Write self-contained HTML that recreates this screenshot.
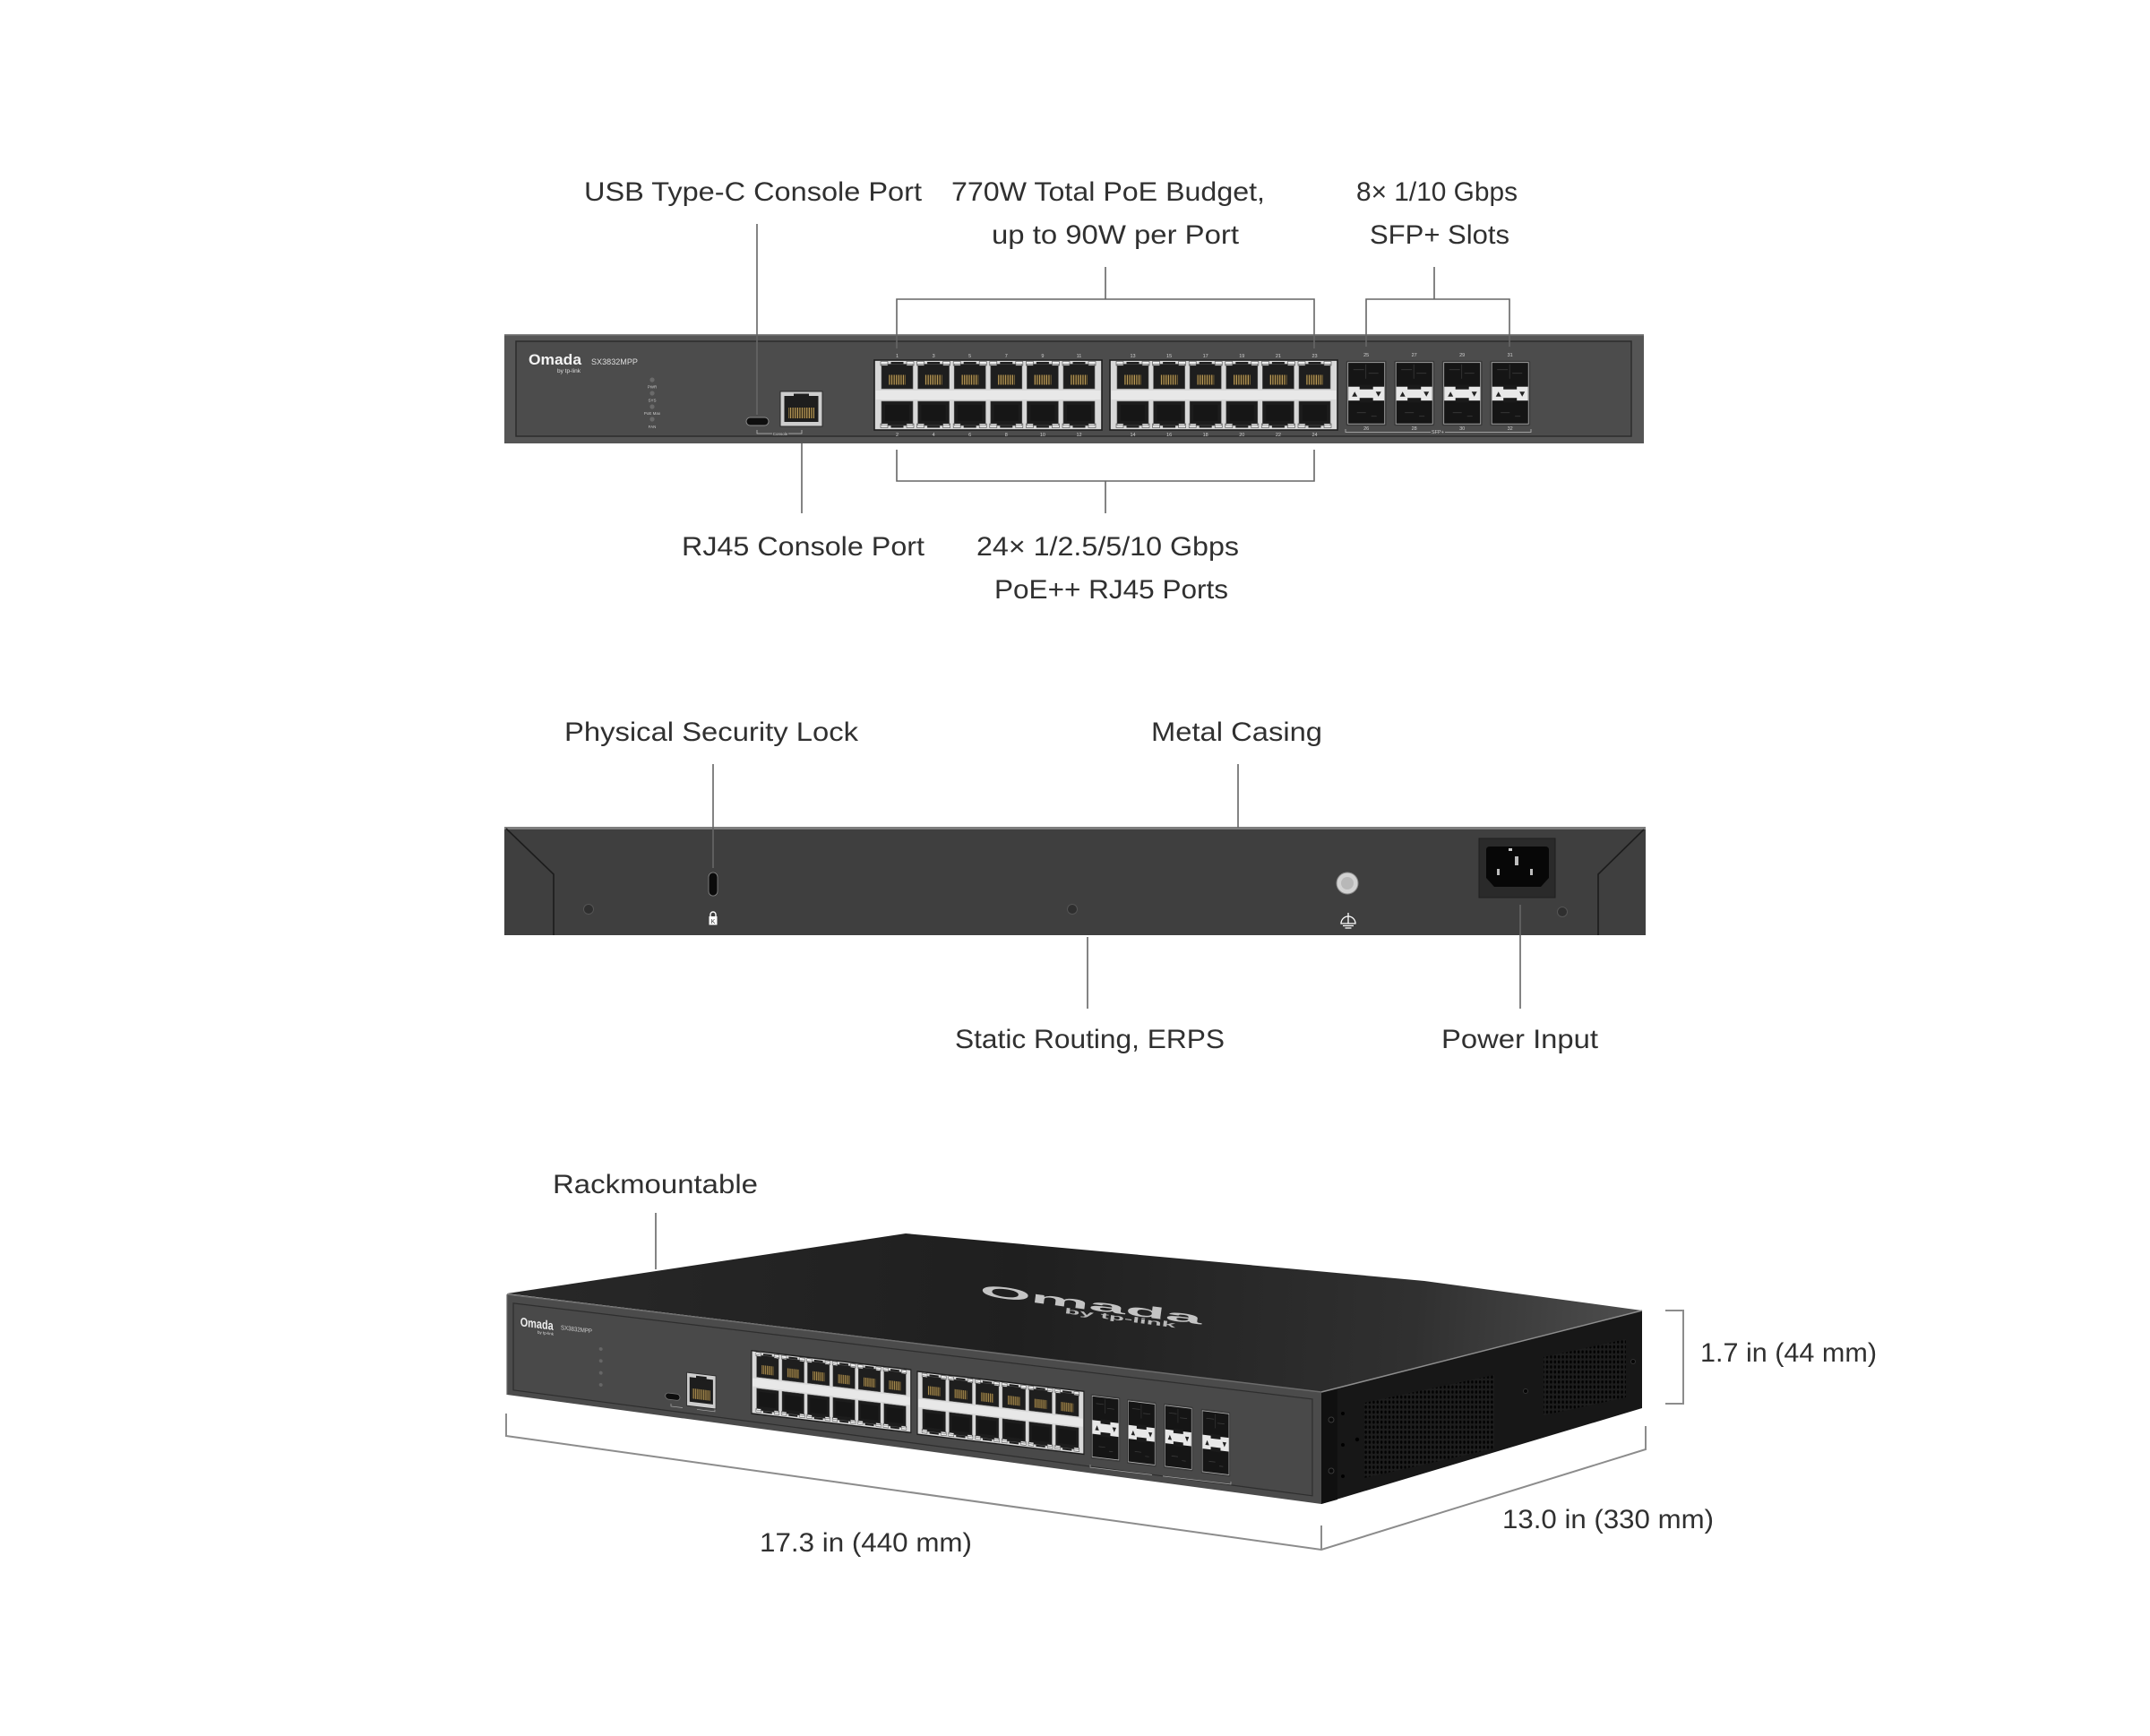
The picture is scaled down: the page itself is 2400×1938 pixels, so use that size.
<!DOCTYPE html>
<html><head><meta charset="utf-8">
<style>
html,body{margin:0;padding:0;background:#fff;}
svg{display:block;}
.lb{font-family:"Liberation Sans",sans-serif;font-size:30px;fill:#303030;}
.ln{stroke:#666;stroke-width:1.6;fill:none;}
.dm{stroke:#8c8c8c;stroke-width:2;fill:none;}
.pn{font-size:5.5px;fill:#cfcfcf;text-anchor:middle;}
</style></head><body>
<svg width="2400" height="1938" viewBox="0 0 2400 1938" xmlns="http://www.w3.org/2000/svg" xmlns:xlink="http://www.w3.org/1999/xlink" font-family="Liberation Sans, sans-serif">
<rect width="2400" height="1938" fill="#fff"/>
<defs>
 <pattern id="pins" width="2.6" height="20" patternUnits="userSpaceOnUse">
   <rect width="2.6" height="20" fill="#2b2417"/>
   <rect x="0.6" width="1.1" height="20" fill="#c8a65e"/>
 </pattern>
 <pattern id="vent" width="4.4" height="5.6" patternUnits="userSpaceOnUse">
   <rect width="4.4" height="5.6" fill="#1d1d1d"/>
   <ellipse cx="2.2" cy="2.8" rx="1.3" ry="1.9" fill="#030303"/>
 </pattern>
 <linearGradient id="topg" gradientUnits="userSpaceOnUse" x1="566" y1="1400" x2="1833" y2="1480">
   <stop offset="0" stop-color="#282828"/>
   <stop offset="0.45" stop-color="#1f1f1f"/>
   <stop offset="0.8" stop-color="#303030"/>
   <stop offset="1" stop-color="#4e4e4e"/>
 </linearGradient>

 <g id="portT">
   <rect x="0" y="0" width="35" height="27.5" fill="#1e1e1e"/>
   <rect x="10.5" y="-2.5" width="14" height="3" fill="#1e1e1e"/>
   <rect x="-1" y="-3" width="8" height="4.5" fill="#f0f0f0" stroke="#444" stroke-width="0.6"/>
   <rect x="28" y="-3" width="8" height="4.5" fill="#f0f0f0" stroke="#444" stroke-width="0.6"/>
   <rect x="8" y="12" width="19" height="11" fill="url(#pins)"/>
   <rect x="0" y="0" width="35" height="27.5" fill="none" stroke="#555" stroke-width="0.6"/>
 </g>
 <g id="portB">
   <rect x="0" y="0" width="35" height="27" fill="#1c1c1c"/>
   <rect x="10.5" y="26.5" width="14" height="3" fill="#1c1c1c"/>
   <rect x="-1" y="25" width="8" height="4.5" fill="#f0f0f0" stroke="#444" stroke-width="0.6"/>
   <rect x="28" y="25" width="8" height="4.5" fill="#f0f0f0" stroke="#444" stroke-width="0.6"/>
   <rect x="4" y="4" width="27" height="18" fill="#161616"/>
   <rect x="0" y="0" width="35" height="27" fill="none" stroke="#555" stroke-width="0.6"/>
 </g>
 <g id="rjblock">
   <rect x="0" y="0" width="254" height="78" fill="#d8d8d8" stroke="#1e1e1e" stroke-width="1.6"/>
   <rect x="1.5" y="34" width="251" height="10" fill="#e8e8e8"/>
   <use href="#portT" x="8" y="4.5"/>
   <use href="#portT" x="48.6" y="4.5"/>
   <use href="#portT" x="89.2" y="4.5"/>
   <use href="#portT" x="129.8" y="4.5"/>
   <use href="#portT" x="170.4" y="4.5"/>
   <use href="#portT" x="211" y="4.5"/>
   <use href="#portB" x="8" y="46"/>
   <use href="#portB" x="48.6" y="46"/>
   <use href="#portB" x="89.2" y="46"/>
   <use href="#portB" x="129.8" y="46"/>
   <use href="#portB" x="170.4" y="46"/>
   <use href="#portB" x="211" y="46"/>
 </g>
 <g id="sfp">
   <rect x="0" y="0" width="45" height="72.5" rx="1.5" fill="#3a3a3a"/>
   <rect x="2" y="2" width="41" height="68.5" fill="#151515" stroke="#b5b5b5" stroke-width="0.8"/>
   <path d="M8,10 H20 M25,14 H36 M12,58 H22 M28,62 H34 M22,4 V20" stroke="#3a3a3a" stroke-width="0.8"/>
   <rect x="2.5" y="29" width="40" height="15.5" fill="#e8e8e8"/>
   <rect x="15" y="27" width="15" height="5" fill="#1a1a1a"/>
   <rect x="15" y="41.5" width="15" height="5" fill="#1a1a1a"/>
   <polygon points="6.5,40 12.5,40 9.5,34.5" fill="#222"/>
   <polygon points="33,34.5 39,34.5 36,40" fill="#222"/>
 </g>
 <g id="con">
   <rect width="47" height="39" fill="#cdcdcd" stroke="#2a2a2a" stroke-width="1"/>
   <rect x="4.5" y="5" width="38" height="29" fill="#1d1d1d"/>
   <rect x="15" y="2.5" width="17" height="5" fill="#1d1d1d"/>
   <rect x="9" y="18" width="29" height="12" fill="url(#pins)"/>
 </g>
</defs>

<!-- ================= LABELS ================= -->
<text class="lb" x="652" y="224" textLength="377" lengthAdjust="spacingAndGlyphs">USB Type-C Console Port</text>
<text class="lb" x="1062" y="224" textLength="350" lengthAdjust="spacingAndGlyphs">770W Total PoE Budget,</text>
<text class="lb" x="1107" y="272" textLength="276" lengthAdjust="spacingAndGlyphs">up to 90W per Port</text>
<text class="lb" x="1514" y="224" textLength="180" lengthAdjust="spacingAndGlyphs">8× 1/10 Gbps</text>
<text class="lb" x="1529" y="272" textLength="156" lengthAdjust="spacingAndGlyphs">SFP+ Slots</text>
<text class="lb" x="761" y="620" textLength="271" lengthAdjust="spacingAndGlyphs">RJ45 Console Port</text>
<text class="lb" x="1090" y="620" textLength="293" lengthAdjust="spacingAndGlyphs">24× 1/2.5/5/10 Gbps</text>
<text class="lb" x="1110" y="668" textLength="261" lengthAdjust="spacingAndGlyphs">PoE++ RJ45 Ports</text>
<text class="lb" x="630" y="827" textLength="328" lengthAdjust="spacingAndGlyphs">Physical Security Lock</text>
<text class="lb" x="1285" y="827" textLength="191" lengthAdjust="spacingAndGlyphs">Metal Casing</text>
<text class="lb" x="1066" y="1170" textLength="301" lengthAdjust="spacingAndGlyphs">Static Routing, ERPS</text>
<text class="lb" x="1609" y="1170" textLength="175" lengthAdjust="spacingAndGlyphs">Power Input</text>
<text class="lb" x="617" y="1332" textLength="229" lengthAdjust="spacingAndGlyphs">Rackmountable</text>
<text class="lb" x="848" y="1732" textLength="237" lengthAdjust="spacingAndGlyphs">17.3 in (440 mm)</text>
<text class="lb" x="1677" y="1706" textLength="236" lengthAdjust="spacingAndGlyphs">13.0 in (330 mm)</text>
<text class="lb" x="1898" y="1520" textLength="197" lengthAdjust="spacingAndGlyphs">1.7 in (44 mm)</text>

<!-- ================= FRONT VIEW ================= -->
<rect x="563" y="373" width="1272" height="122" fill="#555"/>
<rect x="563" y="373" width="1272" height="1.5" fill="#808080"/>
<rect x="576" y="381" width="1245" height="106" fill="#4c4c4c" stroke="#2c2c2c" stroke-width="1.5"/>
<text x="590" y="407" font-weight="bold" font-size="17" fill="#f2f2f2" textLength="59" lengthAdjust="spacingAndGlyphs">Omada</text>
<text x="648" y="416" font-size="6.5" text-anchor="end" fill="#ddd">by tp-link</text>
<text x="660" y="407" font-size="9.5" fill="#ddd" textLength="52" lengthAdjust="spacingAndGlyphs">SX3832MPP</text>
<circle cx="728" cy="424" r="2.6" fill="#6a6a6a"/>
<circle cx="728" cy="439" r="2.6" fill="#6a6a6a"/>
<circle cx="728" cy="454" r="2.6" fill="#6a6a6a"/>
<circle cx="728" cy="468" r="2.6" fill="#6a6a6a"/>
<text x="728" y="433.5" font-size="4.5" fill="#c8c8c8" text-anchor="middle">PWR</text>
<text x="728" y="448.5" font-size="4.5" fill="#c8c8c8" text-anchor="middle">SYS</text>
<text x="728" y="463" font-size="4.5" fill="#c8c8c8" text-anchor="middle">PoE Max</text>
<text x="728" y="478" font-size="4.5" fill="#c8c8c8" text-anchor="middle">FAN</text>
<rect x="833" y="466" width="25" height="9" rx="4.5" fill="#0e0e0e" stroke="#8a8a8a" stroke-width="1"/>
<path d="M845,480 V484 H862 M880,484 H895 V480" stroke="#bbb" stroke-width="0.8" fill="none"/>
<text x="871" y="486" font-size="4.5" fill="#ccc" text-anchor="middle">Console</text>
<use href="#con" x="871" y="437"/>
<use href="#rjblock" x="976" y="402"/>
<use href="#rjblock" x="1239" y="402"/>
<use href="#sfp" x="1502.7" y="402.7"/>
<use href="#sfp" x="1556.2" y="402.7"/>
<use href="#sfp" x="1609.7" y="402.7"/>
<use href="#sfp" x="1663.2" y="402.7"/>
<g class="pn">
 <text x="1001.5" y="399">1</text><text x="1042.1" y="399">3</text><text x="1082.7" y="399">5</text>
 <text x="1123.3" y="399">7</text><text x="1163.9" y="399">9</text><text x="1204.5" y="399">11</text>
 <text x="1264.5" y="399">13</text><text x="1305.1" y="399">15</text><text x="1345.7" y="399">17</text>
 <text x="1386.3" y="399">19</text><text x="1426.9" y="399">21</text><text x="1467.5" y="399">23</text>
 <text x="1001.5" y="487">2</text><text x="1042.1" y="487">4</text><text x="1082.7" y="487">6</text>
 <text x="1123.3" y="487">8</text><text x="1163.9" y="487">10</text><text x="1204.5" y="487">12</text>
 <text x="1264.5" y="487">14</text><text x="1305.1" y="487">16</text><text x="1345.7" y="487">18</text>
 <text x="1386.3" y="487">20</text><text x="1426.9" y="487">22</text><text x="1467.5" y="487">24</text>
 <text x="1525.2" y="398">25</text><text x="1578.7" y="398">27</text><text x="1632.2" y="398">29</text><text x="1685.7" y="398">31</text>
 <text x="1525.2" y="480">26</text><text x="1578.7" y="480">28</text><text x="1632.2" y="480">30</text><text x="1685.7" y="480">32</text>
 <text x="1605" y="484">SFP+</text>
</g>
<path d="M1502,479 V482.5 H1597 M1613,482.5 H1709 V479" stroke="#bbb" stroke-width="0.8" fill="none"/>

<!-- front view connectors -->
<path class="ln" d="M845,250 V463"/>
<path class="ln" d="M1234,298 V334 M1001,389 V334 H1467 V389"/>
<path class="ln" d="M1601,298 V334 M1525,387 V334 H1685 V387"/>
<path class="ln" d="M895,495 V573"/>
<path class="ln" d="M1001,502 V537 H1467 V502 M1234,537 V573"/>

<!-- ================= BACK VIEW ================= -->
<rect x="563" y="924" width="1274" height="120" fill="#3f3f3f"/>
<rect x="563" y="923" width="1274" height="3" fill="#7d7d7d"/>
<path d="M565,925 L618,976 V1044" stroke="#1c1c1c" stroke-width="1.6" fill="none"/>
<path d="M1835,926 L1784,976 V1044" stroke="#1c1c1c" stroke-width="1.6" fill="none"/>
<rect x="791" y="974" width="10" height="26" rx="5" fill="#0a0a0a" stroke="#8a8a8a" stroke-width="0.8"/>
<path d="M793,1024 V1021 A3,3 0 0 1 799,1021 V1024" stroke="#fff" stroke-width="1.4" fill="none"/>
<rect x="791.5" y="1023" width="9" height="9.5" fill="#fff"/>
<text x="796" y="1031" font-size="7" fill="#333" text-anchor="middle">K</text>
<circle cx="657" cy="1015" r="5.5" fill="#2f2f2f" stroke="#555" stroke-width="1"/>
<circle cx="1197" cy="1015" r="5.5" fill="#2f2f2f" stroke="#555" stroke-width="1"/>
<circle cx="1744" cy="1018" r="5.5" fill="#2f2f2f" stroke="#555" stroke-width="1"/>
<circle cx="1504" cy="986" r="12" fill="#d2d2d2" stroke="#8a8a8a" stroke-width="1"/>
<circle cx="1504" cy="986" r="7" fill="#b8b8b8"/>
<path d="M1497,1031 A8,8 0 0 1 1513,1031 Z M1505,1019 V1031 M1499,1033.5 H1511 M1501.5,1036 H1508.5" stroke="#fff" stroke-width="1.3" fill="none"/>
<rect x="1651" y="936" width="85" height="66" fill="#2a2a2a" stroke="#1e1e1e" stroke-width="1"/>
<path d="M1663,945 H1725 Q1729,945 1729,949 V980 L1720,990 H1668 L1659,980 V949 Q1659,945 1663,945 Z" fill="#070707"/>
<rect x="1684" y="947" width="4" height="3" fill="#c9c9c9"/>
<rect x="1691" y="956" width="4" height="10" fill="#bdbdbd"/>
<rect x="1671" y="970" width="3" height="7" fill="#bdbdbd"/>
<rect x="1708" y="970" width="3" height="7" fill="#bdbdbd"/>
<!-- back connectors -->
<path class="ln" d="M796,853 V969"/>
<path class="ln" d="M1382,853 V924"/>
<path class="ln" d="M1214,1046 V1126"/>
<path class="ln" d="M1697,1010 V1126"/>

<!-- ================= 3D VIEW ================= -->
<polygon points="566,1444 1011,1377 1590,1430 1833,1463 1475,1554" fill="url(#topg)"/>
<text x="0" y="0" font-weight="bold" font-size="50" fill="#c4c4c4" textLength="250" lengthAdjust="spacingAndGlyphs" transform="translate(1093,1446) rotate(7.5) scale(1,0.36)">Omada</text>
<text x="0" y="0" font-weight="bold" font-size="22" fill="#b8b8b8" textLength="125" lengthAdjust="spacingAndGlyphs" transform="translate(1188,1466) rotate(7.5) scale(1,0.4)">by tp-link</text>
<polygon points="1475,1554 1833,1463 1833,1572 1475,1679" fill="#171717"/>
<polygon points="1475,1554 1493,1549 1493,1674 1475,1679" fill="#101010"/>
<polygon points="1523,1566 1668,1535 1668,1617 1523,1650" fill="url(#vent)"/>
<polygon points="1723,1515 1815,1495 1815,1560 1723,1580" fill="url(#vent)"/>
<circle cx="1486" cy="1585" r="3" fill="#0a0a0a" stroke="#3a3a3a"/>
<circle cx="1486" cy="1642" r="3" fill="#0a0a0a" stroke="#3a3a3a"/>
<circle cx="1499" cy="1578" r="2" fill="#000"/>
<circle cx="1499" cy="1613" r="2" fill="#000"/>
<circle cx="1499" cy="1648" r="2" fill="#000"/>
<circle cx="1515" cy="1607" r="2.2" fill="#000"/>
<circle cx="1703" cy="1553" r="2.5" fill="#050505" stroke="#333"/>
<circle cx="1823" cy="1520" r="2.5" fill="#050505" stroke="#333"/>
<line x1="1475" y1="1554" x2="1833" y2="1463" stroke="#8d8d8d" stroke-width="1.5"/>
<polygon points="566,1445 1475,1554 1475,1679 566,1557" fill="#4b4b4b"/>
<line x1="566" y1="1445" x2="1475" y2="1554" stroke="#6c6c6c" stroke-width="1.5"/>
<line x1="566" y1="1445" x2="566" y2="1557" stroke="#666" stroke-width="1.2"/>
<g transform="matrix(1,0.12,0,1,566,1445)">
 <polygon points="7,9 899,9 899,117 7,106" fill="#494949" stroke="#2e2e2e" stroke-width="1.2"/>
 <text x="14.7" y="33.6" font-weight="bold" font-size="14" fill="#eee" textLength="37" lengthAdjust="spacingAndGlyphs">Omada</text>
 <text x="52" y="39.5" font-size="4.5" fill="#ddd" text-anchor="end">by tp-link</text>
 <text x="60" y="32" font-size="7" fill="#ccc" textLength="35" lengthAdjust="spacingAndGlyphs">SX3832MPP</text>
 <circle cx="104.7" cy="48.4" r="2" fill="#666"/>
 <circle cx="104.7" cy="61.7" r="2" fill="#666"/>
 <circle cx="104.7" cy="75.1" r="2" fill="#666"/>
 <circle cx="104.7" cy="88.4" r="2" fill="#666"/>
 <rect x="176.7" y="88.5" width="16.3" height="7" rx="3.5" fill="#0e0e0e" stroke="#777" stroke-width="0.8"/>
 <path d="M183,100 V103 H196 M212,103 H232 V100" stroke="#aaa" stroke-width="0.7" fill="none"/>
 <use href="#con" transform="translate(200.7,63) scale(0.687,0.95)"/>
 <use href="#rjblock" transform="translate(273,30) scale(0.7,0.9)"/>
 <use href="#rjblock" transform="translate(458,31) scale(0.732,0.9)"/>
 <use href="#sfp" transform="translate(651.7,33) scale(0.725,0.993)"/>
 <use href="#sfp" transform="translate(692,33.7) scale(0.725,0.993)"/>
 <use href="#sfp" transform="translate(733,33.7) scale(0.725,0.993)"/>
 <use href="#sfp" transform="translate(774.7,34.7) scale(0.725,0.993)"/>
 <path d="M651,112 V115 H720 M732,115 H808 V112" stroke="#aaa" stroke-width="0.7" fill="none"/>
</g>
<!-- 3D connectors / dimensions -->
<path class="ln" d="M732,1354 V1417"/>
<path class="dm" d="M565,1578 V1603 L1475,1730 L1837,1618 V1592"/>
<path class="dm" d="M1475,1703 V1730"/>
<path class="dm" d="M1859,1463 H1879 V1567 H1859"/>
</svg>
</body></html>
